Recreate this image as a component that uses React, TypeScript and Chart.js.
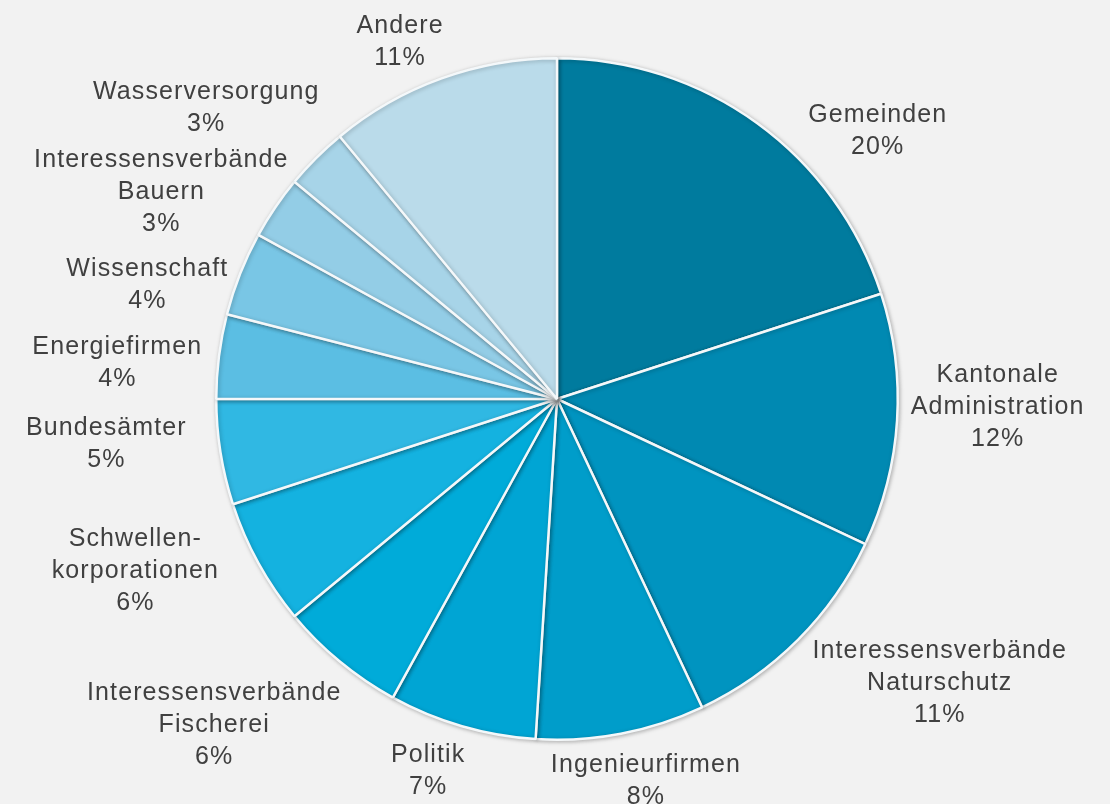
import React, { useEffect, useRef } from "react";
import { Chart, registerables } from "chart.js";

Chart.register(...registerables);

const categories: string[][] = [
  ["Gemeinden"],
  ["Kantonale", "Administration"],
  ["Interessensverbände", "Naturschutz"],
  ["Ingenieurfirmen"],
  ["Politik"],
  ["Interessensverbände", "Fischerei"],
  ["Schwellen-", "korporationen"],
  ["Bundesämter"],
  ["Energiefirmen"],
  ["Wissenschaft"],
  ["Interessensverbände", "Bauern"],
  ["Wasserversorgung"],
  ["Andere"],
];

const shares: number[] = [20, 12, 11, 8, 7, 6, 6, 5, 4, 4, 3, 3, 11];

const sliceColors: string[] = [
  "#007B9E",
  "#0089B2",
  "#0094C0",
  "#009DCA",
  "#00A5D4",
  "#00ABD9",
  "#14B2E0",
  "#30B8E3",
  "#5BBEE3",
  "#79C6E5",
  "#93CDE6",
  "#A7D4E8",
  "#BADBEA",
];

// label block centres, offsets from pie centre in px at radius 341
const labelOffsets: [number, number][] = [
  [321, -268],
  [441, 8],
  [383, 284],
  [89, 382],
  [-129, 372],
  [-343, 326],
  [-422, 172],
  [-451, 45],
  [-440, -36],
  [-410, -114],
  [-396, -207],
  [-351, -291],
  [-157, -357],
];

const labelPlugin = {
  id: "outerLabels",
  afterDraw(chart: any) {
    const meta = chart.getDatasetMeta(0);
    if (!meta || !meta.data.length) return;
    const arc0 = meta.data[0];
    const cx = arc0.x;
    const cy = arc0.y;
    const r = arc0.outerRadius;
    const scale = r / 341;
    const ctx = chart.ctx as CanvasRenderingContext2D;
    ctx.save();
    ctx.fillStyle = "#404040";
    ctx.font = "25px 'Liberation Sans', Arial, sans-serif";
    (ctx as any).letterSpacing = "1.1px";
    ctx.textAlign = "center";
    ctx.textBaseline = "middle";
    const lineH = 32;
    categories.forEach((lines, i) => {
      const all = [...lines, shares[i] + "%"];
      const [ox, oy] = labelOffsets[i];
      const x = cx + ox * scale;
      const y0 = cy + oy * scale - ((all.length - 1) * lineH) / 2;
      all.forEach((t, j) => ctx.fillText(t, x, y0 + j * lineH));
    });
    ctx.restore();
  },
};

const shadowPlugin = {
  id: "pieShadow",
  beforeDatasetsDraw(chart: any) {
    const ctx = chart.ctx as CanvasRenderingContext2D;
    ctx.save();
    ctx.shadowColor = "rgba(0,0,0,0.25)";
    ctx.shadowBlur = 4;
    ctx.shadowOffsetX = 1;
    ctx.shadowOffsetY = 1;
  },
  afterDatasetsDraw(chart: any) {
    chart.ctx.restore();
  },
};

export default function App() {
  const ref = useRef<HTMLCanvasElement | null>(null);
  useEffect(() => {
    if (!ref.current) return;
    const chart = new Chart(ref.current, {
      type: "pie",
      data: {
        labels: categories.map((c) => c.join(" ")),
        datasets: [
          {
            data: shares,
            backgroundColor: sliceColors,
            borderColor: "#F4F8FA",
            borderWidth: 2.5,
          },
        ],
      },
      options: {
        animation: false,
        responsive: false,
        maintainAspectRatio: false,
        layout: { padding: { top: 57, bottom: 63, left: 215, right: 211 } },
        plugins: {
          legend: { display: false },
          tooltip: { enabled: false },
        },
      },
      plugins: [shadowPlugin, labelPlugin],
    });
    return () => chart.destroy();
  }, []);
  return (
    <div
      style={{
        position: "fixed",
        left: 0,
        top: 0,
        width: 1110,
        height: 804,
        background: "#F2F2F2",
      }}
    >
      <canvas ref={ref} width={1110} height={804} />
    </div>
  );
}
